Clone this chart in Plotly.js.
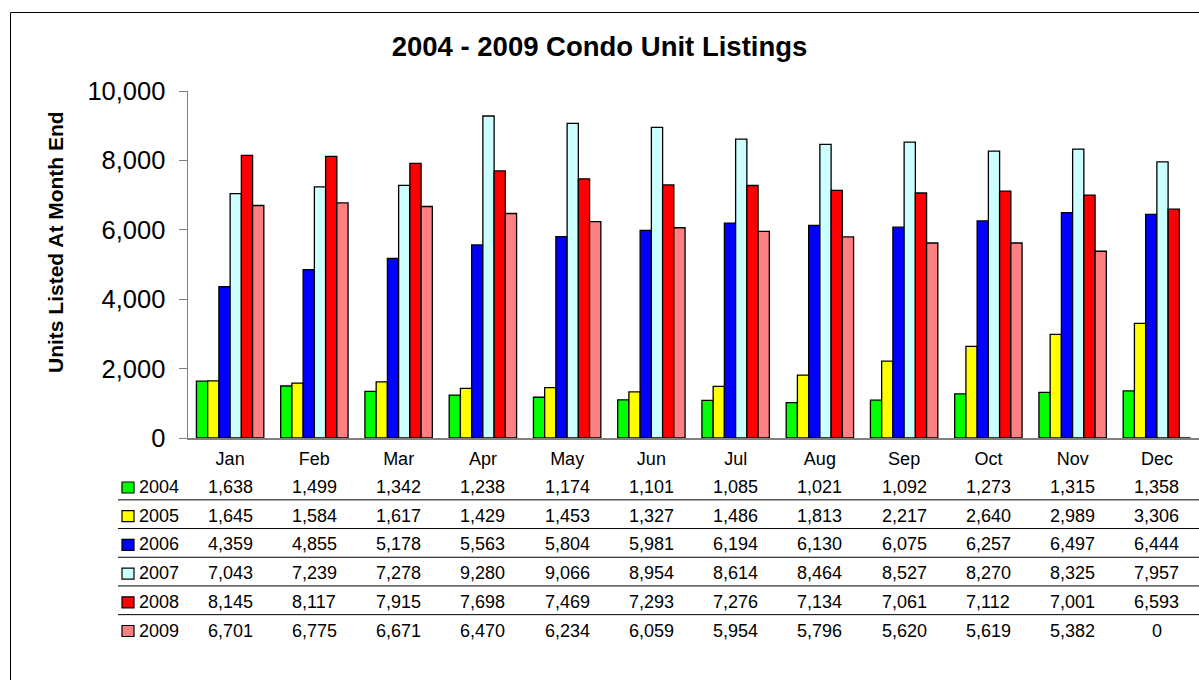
<!DOCTYPE html>
<html>
<head>
<meta charset="utf-8">
<script src="https://cdn.plot.ly/plotly-3.0.1.min.js"></script>
<style>html,body{margin:0;padding:0;background:#fff;}#chart{width:1199px;height:680px;}</style>
</head>
<body>
<div id="chart"></div>
<script>
const months = ["Jan","Feb","Mar","Apr","May","Jun","Jul","Aug","Sep","Oct","Nov","Dec"];
const years = ["2004","2005","2006","2007","2008","2009"];
const v2004 = [1638,1499,1342,1238,1174,1101,1085,1021,1092,1273,1315,1358];
const v2005 = [1645,1584,1617,1429,1453,1327,1486,1813,2217,2640,2989,3306];
const v2006 = [4359,4855,5178,5563,5804,5981,6194,6130,6075,6257,6497,6444];
const v2007 = [7043,7239,7278,9280,9066,8954,8614,8464,8527,8270,8325,7957];
const v2008 = [8145,8117,7915,7698,7469,7293,7276,7134,7061,7112,7001,6593];
const v2009 = [6701,6775,6671,6470,6234,6059,5954,5796,5620,5619,5382,0];
const colors = ["#00FF00","#FFFF00","#0000FF","#CCFFFF","#FF0000","#FF8080"];
const series = [v2004,v2005,v2006,v2007,v2008,v2009];

const FONT = "Liberation Sans, Arial, sans-serif";
// layout geometry (pixels)
const W = 1199, H = 680, L = 188, R = 0, T = 91, B = 242;
const pw = W - L - R, ph = H - T - B;
const px = X => (X - L) / pw;
const py = Y => (H - B - Y) / ph;

const traces = series.map((vals, i) => ({
  type: "bar", x: months, y: vals, name: years[i],
  marker: {color: colors[i], line: {color: "#000", width: 1.3}},
  showlegend: false, hoverinfo: "x+y+name"
}));

const fmt = n => n.toLocaleString("en-US");
const annotations = [];
const shapes = [];
const rowY0 = 487, rowStep = 28.7;
series.forEach((vals, i) => {
  const yc = rowY0 + i * rowStep;
  vals.forEach((v, j) => {
    annotations.push({x: months[j], xref: "x", y: py(yc), yref: "paper", text: fmt(v),
      showarrow: false, font: {family: FONT, size: 18, color: "#000"},
      xanchor: "center", yanchor: "middle"});
  });
  annotations.push({x: px(137), xref: "paper", y: py(yc), yref: "paper", text: years[i],
    showarrow: false, font: {family: FONT, size: 18, color: "#000"},
    xanchor: "left", yanchor: "middle"});
  shapes.push({type: "rect", xref: "paper", yref: "paper", x0: px(122), x1: px(134),
    y0: py(yc - 5), y1: py(yc + 6), fillcolor: colors[i], line: {color: "#000", width: 1.2}});
  if (i < series.length - 1) {
    const ly = yc + rowStep / 2 - 1.5;
    shapes.push({type: "line", xref: "paper", yref: "paper", x0: px(118), x1: px(1199),
      y0: py(ly), y1: py(ly), line: {color: "#000", width: 1}});
  }
});
// y-axis title
annotations.push({x: px(55), xref: "paper", y: py(242), yref: "paper", text: "<b>Units Listed At Month End</b>",
  textangle: -90, showarrow: false, xanchor: "center", yanchor: "middle",
  font: {family: FONT, size: 21, color: "#000"}});
// outer chart border
shapes.push({type: "rect", xref: "paper", yref: "paper", x0: px(10.5), x1: px(1260),
  y0: py(760), y1: py(12.5), line: {color: "#000", width: 1}, fillcolor: "rgba(0,0,0,0)"});

const layout = {
  width: W, height: H,
  margin: {l: L, r: R, t: T, b: B, pad: 0},
  paper_bgcolor: "#fff", plot_bgcolor: "#fff",
  title: {text: "<b>2004 - 2009 Condo Unit Listings</b>", x: 0.5, xref: "container", xanchor: "center",
    y: 1 - 46 / H, yanchor: "middle", yref: "container",
    font: {family: FONT, size: 27.5, color: "#000"}},
  barmode: "group", bargap: 0.2, bargroupgap: 0,
  xaxis: {type: "category", showgrid: false, zeroline: false, showline: true, linecolor: "#808080",
    linewidth: 1.5, ticks: "", tickfont: {family: FONT, size: 18, color: "#000"},
    ticklabelstandoff: 4, range: [-0.5, 11.5], fixedrange: true},
  yaxis: {range: [0, 10000], dtick: 2000, tickformat: ",d", showgrid: false, zeroline: false,
    showline: true, linecolor: "#808080", linewidth: 1.5, ticks: "outside", ticklen: 8, tickcolor: "#808080",
    tickfont: {family: FONT, size: 25.5, color: "#000"}, ticklabelstandoff: 8,
    fixedrange: true},
  annotations: annotations,
  shapes: shapes
};
Plotly.newPlot("chart", traces, layout, {displayModeBar: false, staticPlot: true});
</script>
</body>
</html>
